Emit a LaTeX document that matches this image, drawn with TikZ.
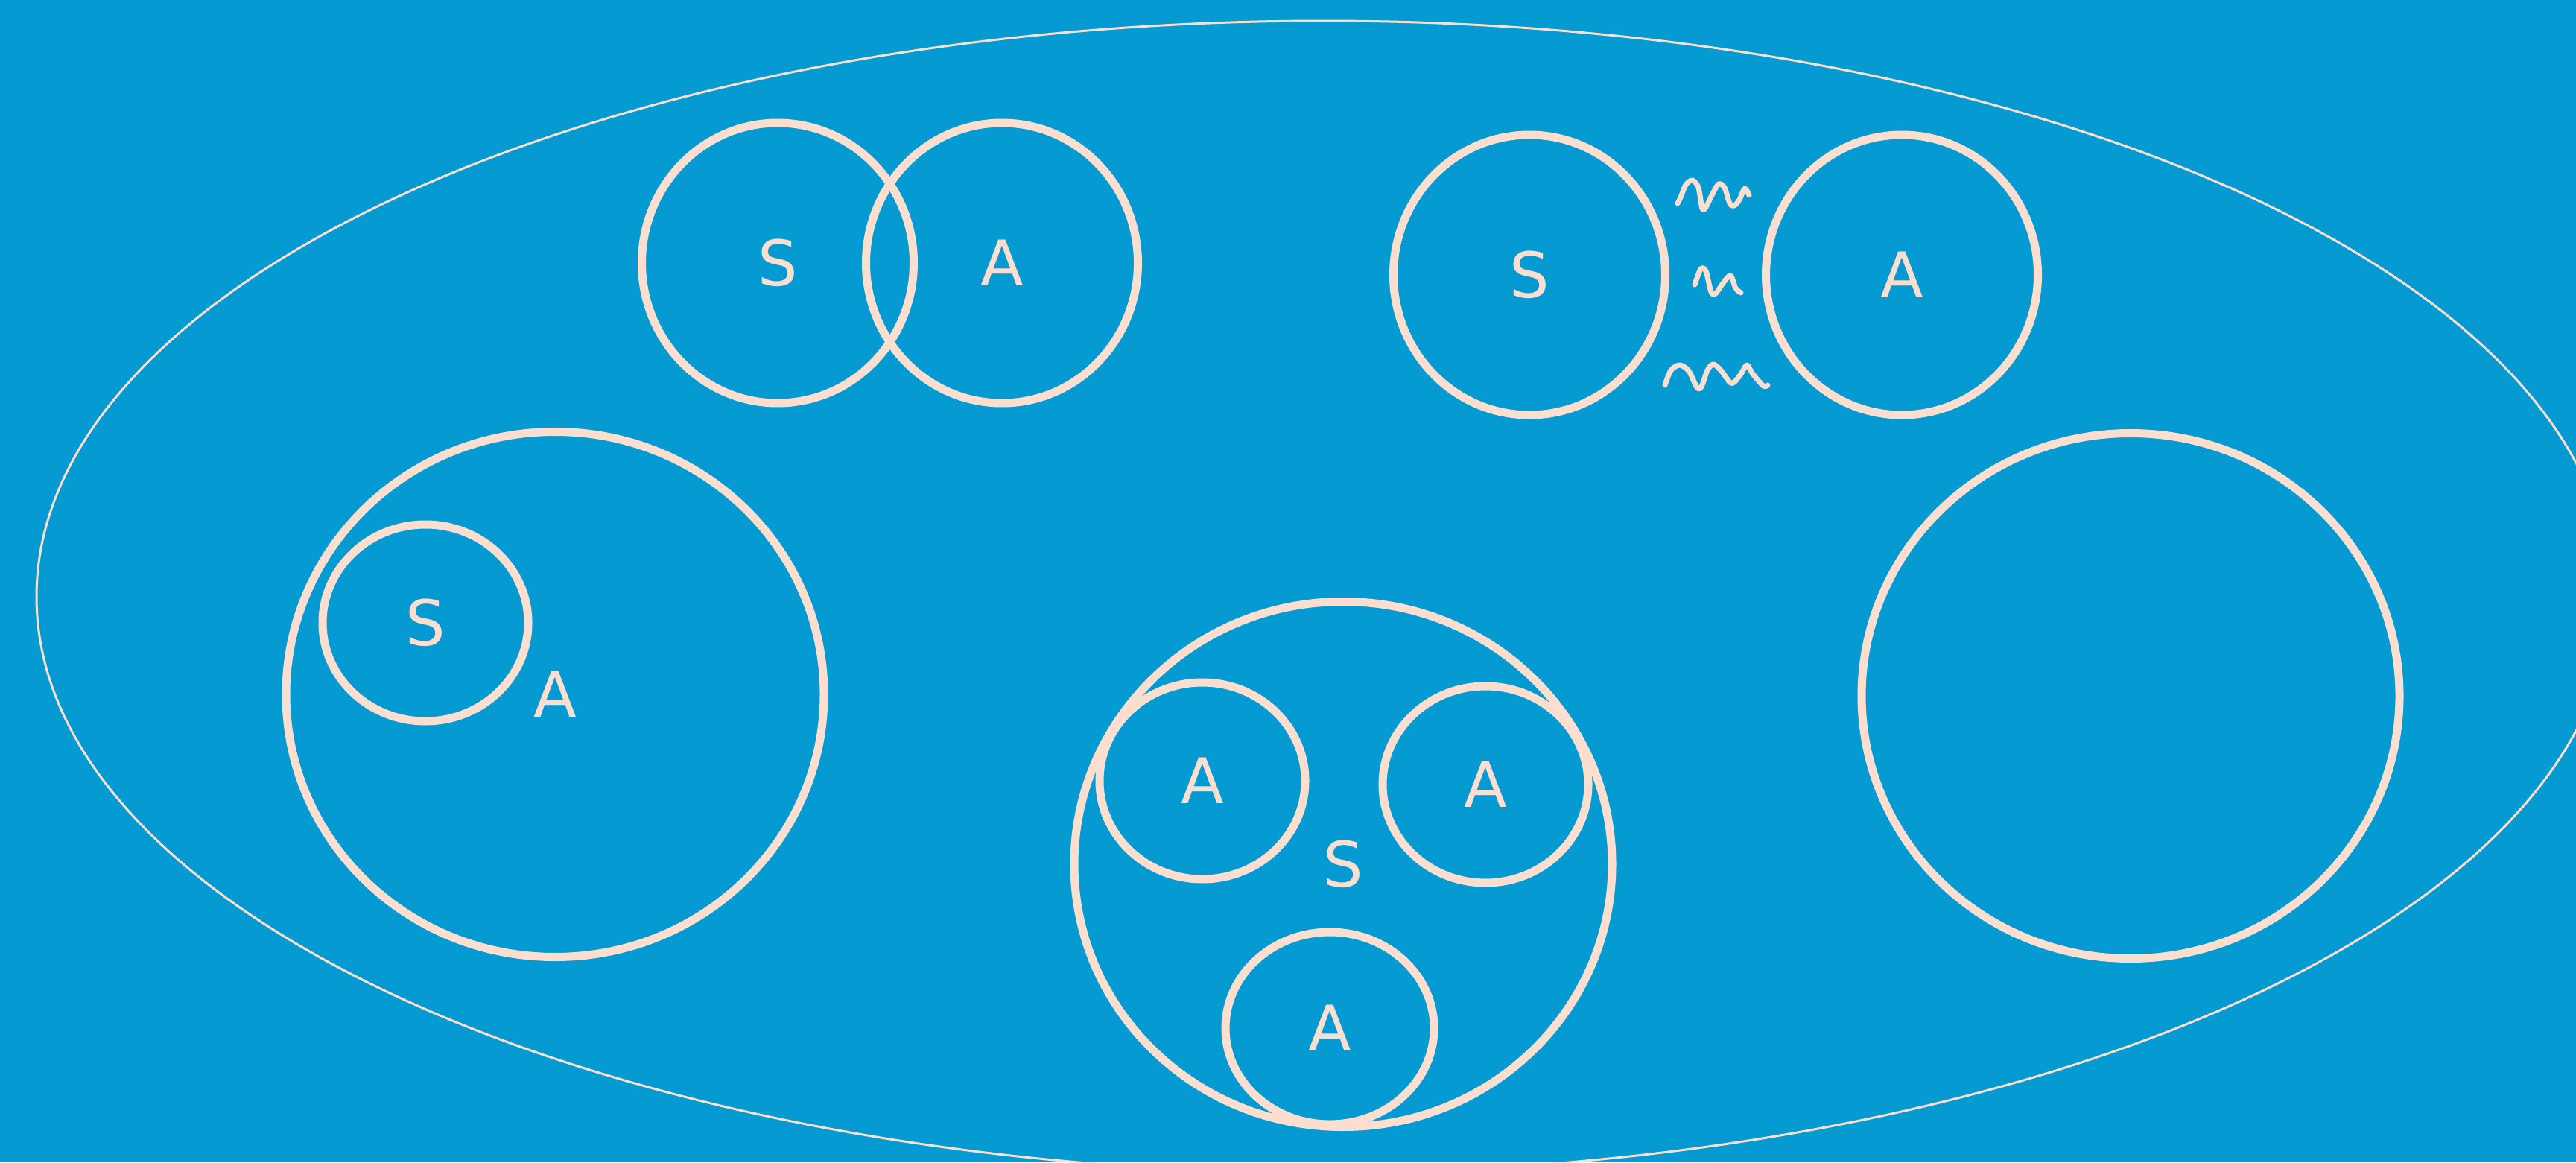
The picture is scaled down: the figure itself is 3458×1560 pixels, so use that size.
\documentclass[tikz,border=0pt]{standalone}
\usepackage{fontspec}
\setmainfont{DejaVu Sans}
\usepackage{tikz}
\usetikzlibrary{shapes.geometric}
\definecolor{seablue}{RGB}{6, 154, 210}
\definecolor{peach}{RGB}{250, 222, 208}
\tikzset{
    ring/.style={ellipse, draw=peach, line width=1.1mm, inner sep=0pt, text=peach,
                 font=\fontsize{24}{24}\selectfont},
    pair/.style={ring, minimum width=36.5mm, minimum height=37.6mm},
    small/.style={ring, minimum width=27.6mm, minimum height=26.4mm},
    big/.style={ring, minimum width=72.2mm, minimum height=70.5mm},
    wiggle/.style={draw=peach, line width=0.7mm, line cap=round, line join=round}
}

\begin{document}
\begin{tikzpicture}[x=0.1mm, y=-0.1mm]
    % background and frame ellipse
    \fill[seablue] (0,0) rectangle (3458,1560);
    \useasboundingbox (0,0) rectangle (3458,1560);
    \draw[peach, line width=0.3mm] (1777,801) ellipse [x radius=172.8mm, y radius=77.3mm];

    % overlapping pair
    \node[pair] (overlapS) at (1044,353) {S};
    \node[pair] (overlapA) at (1345,353) {A};

    % separate pair with wiggles between
    \node[pair] (apartS) at (2053,369) {S};
    \node[pair] (apartA) at (2553,369) {A};
    \draw[wiggle] plot[smooth] coordinates {(2252,273) (2256,265) (2263,248) (2272,242) (2280,252) (2285,280)
        (2290,278) (2298,262) (2307,247) (2315,252) (2322,273) (2328,276) (2335,268) (2342,253) (2348,262)};
    \draw[wiggle] plot[smooth] coordinates {(2275,382) (2283,361) (2290,364) (2297,392) (2303,394)
        (2313,380) (2323,370) (2330,387) (2337,393)};
    \draw[wiggle] plot[smooth] coordinates {(2235,517) (2243,497) (2255,490) (2267,498) (2278,520)
        (2284,519) (2292,497) (2300,489) (2310,497) (2322,513) (2328,513) (2337,502) (2345,490)
        (2353,502) (2367,518) (2373,517)};

    % S inside A
    \node[big] (outerA) at (745,932) {A};
    \node[small] (innerS) at (571,836) {S};

    % three A inside S
    \node[big] (outerS) at (1803,1160) {S};
    \node[small] (innerA1) at (1614,1048) {A};
    \node[small] (innerA2) at (1994,1053) {A};
    \node[small, minimum width=28mm, minimum height=25.8mm] (innerA3) at (1785,1380) {A};

    % empty
    \node[big] (empty) at (2860,934) {};
\end{tikzpicture}
\end{document}
